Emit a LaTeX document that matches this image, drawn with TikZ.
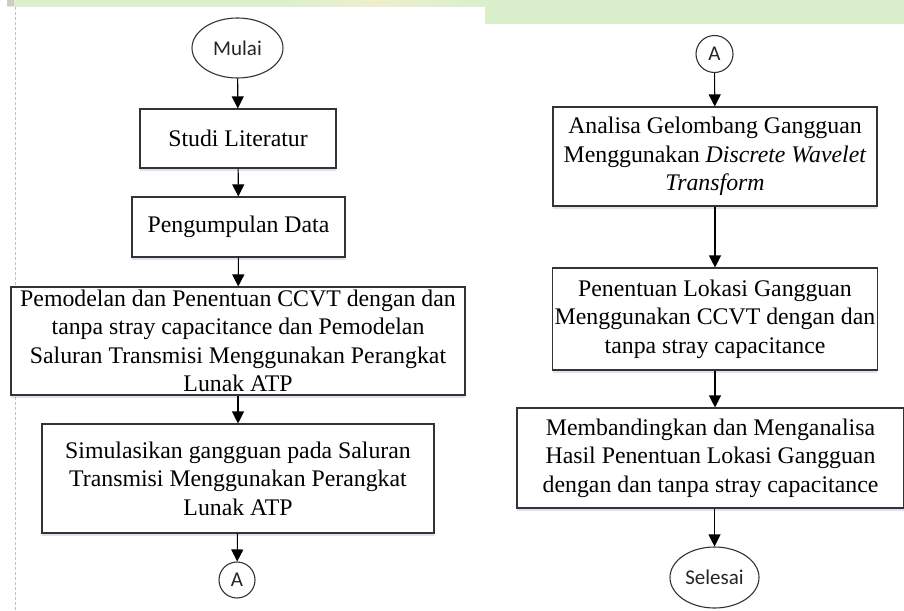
\documentclass[tikz,border=0pt]{standalone}
\usepackage{fontspec}
\setmainfont{Liberation Serif}
\newfontfamily\labelfont{Carlito}
\usetikzlibrary{shapes.geometric,shadows,arrows.meta}
\definecolor{daun}{RGB}{218,240,205}
\definecolor{kuning}{RGB}{240,238,205}
\tikzstyle{tahap}=[draw=black!80, line width=1.1pt, fill=white, align=center,
  inner sep=2pt, font=\fontsize{23.8}{28.4}\selectfont,
  drop shadow={shadow xshift=0pt, shadow yshift=-3pt, opacity=0.12, fill=blue!60!black}]
\tikzstyle{terminal}=[draw=black!80, line width=1.1pt, ellipse, fill=white,
  inner sep=0pt, text=black!85, font=\labelfont\fontsize{21}{24}\selectfont]
\tikzstyle{konektor}=[terminal, circle]
\tikzstyle{line} = [draw, line width=1.1pt, -{Triangle[width=12pt,length=12pt]}]
\newcommand{\langkah}[4]{node (#1) [tahap, minimum width=#2pt,
  minimum height=#3pt] {#4}}

\begin{document}
\begin{tikzpicture}[x=1pt,y=-1pt]
  \useasboundingbox (0,0) rectangle (904,610);

  % page background strip and margin line
  \fill[daun] (7,0) rectangle (485,7);
  \fill[daun] (485,0) rectangle (904,24);
  \shade[left color=daun, right color=kuning] (285,0) rectangle (375,7);
  \shade[left color=kuning, right color=daun] (375,0) rectangle (465,7);
  \fill[black!20] (7,0) rectangle (14,6);
  \draw[black!25, line width=0.8pt, dash pattern=on 3pt off 2pt] (15,7) -- (15,610);

  % left column
  \node (mulai) [terminal, minimum width=91pt, minimum height=60pt] at (237.5,48) {Mulai};
  \path (238,138.5) \langkah{studi}{196}{59}{Studi Literatur};
  \path (238.5,227) \langkah{data}{213}{60}{Pengumpulan Data};
  \path (238,341) \langkah{model}{454}{108}{Pemodelan dan Penentuan CCVT dengan dan\\
    tanpa stray capacitance dan Pemodelan\\
    Saluran Transmisi Menggunakan Perangkat\\
    Lunak ATP};
  \path (238,478.5) \langkah{simulasi}{392}{109}{Simulasikan gangguan pada Saluran\\
    Transmisi Menggunakan Perangkat\\
    Lunak ATP};
  \node (akiri) [konektor, minimum size=36pt] at (237,580) {A};

  % right column
  \node (akanan) [konektor, minimum size=37pt] at (714.5,54) {A};
  \path (715,156.5) \langkah{analisa}{324}{99}{Analisa Gelombang Gangguan\\
    Menggunakan \textit{Discrete Wavelet}\\
    \textit{Transform}};
  \path (715,319) \langkah{lokasi}{324}{102}{Penentuan Lokasi Gangguan\\
    Menggunakan CCVT dengan dan\\
    tanpa stray capacitance};
  \path (710.5,458) \langkah{banding}{387}{100}{Membandingkan dan Menganalisa\\
    Hasil Penentuan Lokasi Gangguan\\
    dengan dan tanpa stray capacitance};
  \node (selesai) [terminal, minimum width=89pt, minimum height=61pt] at (714.5,577.5) {Selesai};

  % arrows
  \path [line] (mulai) -- (studi);
  \path [line] (studi) -- (data);
  \path [line] (data) -- (model);
  \path [line] (model) -- (simulasi);
  \path [line] (simulasi) -- (akiri);
  \path [line] (akanan) -- (analisa);
  \path [line] (analisa) -- (lokasi);
  \path [line] (lokasi) -- (lokasi |- banding.north);
  \path [line] (banding.south -| selesai) -- (selesai);
\end{tikzpicture}
\end{document}
